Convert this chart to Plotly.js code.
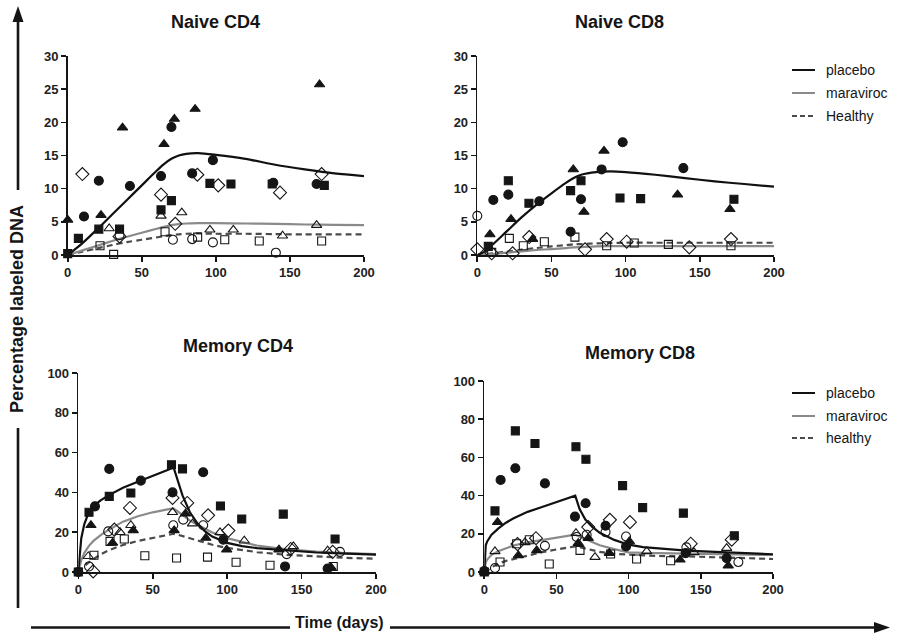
<!DOCTYPE html>
<html>
<head>
<meta charset="utf-8">
<script src="https://cdn.plot.ly/plotly-3.0.1.min.js"></script>
<style>html,body{margin:0;padding:0;background:#fff;}#chart{width:903px;height:635px;}</style>
</head>
<body>
<div id="chart"></div>
<script>
// ---------- tick labels ----------
const xTicks = [0, 50, 100, 150, 200];
const naiveYTicks = [0, 5, 10, 15, 20, 25, 30];
const memYTicks = [0, 20, 40, 60, 80, 100];

// ---------- panel titles / legend labels ----------
const panelTitles = ["Naive CD4", "Naive CD8", "Memory CD4", "Memory CD8"];
const legendTop = ["placebo", "maraviroc", "Healthy"];
const legendBottom = ["placebo", "maraviroc", "healthy"];

// ---------- Naive CD4 observed points [day, %] ----------
const nCD4_filledCircle = [[11,5.8],[21,11.2],[42,10.4],[63,11.9],[70,19.3],[84,12.3],[98,14.3],[138.8,10.9],[168,10.7]];
const nCD4_filledSquare = [[0,0.2],[7.2,2.5],[21,3.9],[35,3.9],[63,6.8],[70,8.2],[96,10.8],[110.2,10.7],[138,10.7],[173.2,10.5]];
const nCD4_filledTriangle = [[0,5.3],[22.5,6.0],[37,19.2],[65,16.7],[72,20.5],[86,22],[170,25.7]];
const nCD4_openCircle = [[35,3.0],[71,2.3],[84,2.4],[98,1.9],[140.5,0.35]];
const nCD4_openSquare = [[21.8,1.4],[31,0.1],[65.7,3.5],[87.7,2.7],[106,2.3],[129.3,2.1],[171.4,2.1]];
const nCD4_openTriangle = [[28,4.0],[63,5.9],[77,6.4],[96,3.8],[111.8,3.8],[145,2.9],[168,4.5]];
const nCD4_openDiamond = [[9.9,12.2],[35,2.8],[63,9.1],[72.6,4.7],[87.5,12.1],[101.6,10.5],[143.3,9.4],[171.4,12.2]];

// ---------- Naive CD8 observed points ----------
const nCD8_filledCircle = [[10.8,8.3],[20.9,9.1],[41.8,8.1],[62.9,3.5],[69.9,8.4],[83.8,12.9],[98,17.0],[138.9,13.1]];
const nCD8_filledSquare = [[7.4,1.3],[20.9,11.2],[34.8,7.8],[62.9,9.7],[69.9,11.2],[96.2,8.6],[110.1,8.5],[173,8.4]];
const nCD8_filledTriangle = [[8.5,3.1],[22.7,5.4],[37.3,2.4],[64.7,12.9],[71.9,6.5],[85.4,15.7],[135,9.1],[170.3,6.9]];
const nCD8_openCircle = [[0,5.9]];
const nCD8_openSquare = [[9.7,0.4],[21.6,2.5],[31,1.4],[45.2,2.0],[65.8,2.7],[87.2,1.4],[105.8,1.8],[128.8,1.6],[171,1.4]];
const nCD8_openTriangle = [];
const nCD8_openDiamond = [[0,0.85],[9.7,0.25],[23.8,0.25],[35,2.7],[72.6,0.85],[87.2,2.4],[100.7,2.0],[142.9,1.15],[171,2.4]];

// ---------- Memory CD4 observed points ----------
const mCD4_filledCircle = [[0,0],[11.2,33],[20.8,51.8],[42,45.9],[63.3,40],[83.9,50.1],[97.4,16.2],[138.9,2.8],[167.5,1.7]];
const mCD4_filledSquare = [[0,0],[7.2,30],[20.8,38],[35.3,39.7],[62.6,53.9],[70,51.8],[95.5,33.2],[109.8,26.6],[137.7,29.1],[172.5,16.6]];
const mCD4_filledTriangle = [[8.5,23.5],[23,14.6],[36.9,20.9],[64.4,20.9],[72,29.3],[85.7,17.1],[99.7,11.2],[134.8,11.2],[169.8,2.3]];
const mCD4_openCircle = [[7.2,2.8],[20.1,20.4],[63.8,23.5],[70.5,26.3],[83.9,23.5],[140,9],[175.8,10.1]];
const mCD4_openSquare = [[10.5,8.4],[21.3,15.4],[30.9,16.6],[44.7,8.2],[66,7],[86.8,7.5],[106,4.9],[128.8,3.4],[171.3,2.8]];
const mCD4_openTriangle = [[6.7,7.9],[28,20],[35.3,23.5],[63.3,30],[76.7,24.3],[95.2,19.9],[111.5,15.7],[144.5,12.9],[167.5,10.7]];
const mCD4_openDiamond = [[10,0.3],[24.2,21.3],[34.7,32.2],[63.3,37.2],[73.2,34.7],[87.2,28.5],[100.8,20.8],[142.7,11.6],[170.9,10.1]];

// ---------- Memory CD8 observed points ----------
const mCD8_filledCircle = [[0,0.5],[11.3,48.2],[21.5,54.3],[42,46.4],[62.8,29],[70.2,36],[84,24.2],[98.2,13.4],[139.5,9.9],[167.9,7.3]];
const mCD8_filledSquare = [[0,0],[7.4,32],[21.5,73.9],[35.1,67.3],[63.5,65.6],[70.4,59],[95.8,45.2],[109.7,33.7],[137.9,30.8],[173.2,19]];
const mCD8_filledTriangle = [[0,0],[9.2,26.1],[23.6,8.7],[36.3,11.3],[65.1,15.1],[72,17.7],[86.6,9.9],[100.5,16],[135.6,6.4],[169,3.3]];
const mCD8_openCircle = [[7.4,2.1],[42,13.7],[64,18.3],[70.9,19.5],[84,20.9],[98.2,18.6],[140,12.9],[176,5.2]];
const mCD8_openSquare = [[10.9,5.2],[22.4,14.8],[31.2,16.9],[45,4.2],[66.3,11.3],[87.5,9.4],[105.5,6.8],[129.1,5.9]];
const mCD8_openTriangle = [[7.4,10.8],[28.2,15.5],[63.5,20.3],[76.7,7.8],[112.5,10.8],[145.3,10.3],[167.9,12.5]];
const mCD8_openDiamond = [[23,14.6],[35.8,17.7],[72,23.5],[87,27.3],[100.9,26.1],[143,14.8],[171.4,16.9]];

// ---------- model curves ----------
const nCD4_days = [0,10,20,30,40,50,60,65,70,75,80,88,100,120,140,160,180,200];
const nCD4_placebo = [0,1.8,3.9,6.1,8.3,10.5,12.7,13.7,14.5,15.0,15.25,15.35,15.1,14.5,13.6,12.9,12.3,11.9];
const nCD4_maraviroc = [0,0.7,1.4,2.1,2.75,3.35,3.95,4.25,4.5,4.65,4.75,4.8,4.8,4.75,4.7,4.6,4.55,4.5];
const nCD4_healthy = [0,0.5,1.0,1.5,1.95,2.3,2.65,2.85,3.0,3.1,3.2,3.25,3.2,3.2,3.15,3.1,3.1,3.1];

const nCD8_days = [0,5,10,20,30,40,50,60,65,70,80,90,100,120,140,160,180,200];
const nCD8_placebo = [0,0.5,1.5,3.6,5.7,7.6,9.3,10.9,11.6,12.1,12.5,12.6,12.5,12.1,11.6,11.1,10.7,10.3];
const nCD8_maraviroc = [0,0.05,0.15,0.35,0.55,0.75,0.9,1.05,1.15,1.2,1.3,1.33,1.35,1.35,1.35,1.35,1.35,1.35];
const nCD8_healthy = [0,0.1,0.25,0.5,0.8,1.05,1.3,1.5,1.6,1.65,1.75,1.8,1.85,1.85,1.85,1.85,1.85,1.85];

const mCD4_days = [0,1,2,4,7,10,15,20,30,40,50,60,64,67,70,75,80,85,90,100,110,120,140,160,180,200];
const mCD4_placebo = [0,10,17,24,30,33,36,38.4,42.3,45.3,48.5,51.3,52.5,45,38.5,30,24.5,20.5,17.8,14.6,13,12,10.8,9.8,9.2,8.7];
const mCD4_maraviroc = [0,3.5,6,9.5,13,15.5,18.5,21,25.3,28,30,31.5,32,30.3,28.5,25.8,23.7,21.6,19.8,17,15,13.3,11.4,10.2,9.5,9.0];
const mCD4_healthy = [0,0.8,1.5,2.9,4.8,6.5,8.9,10.8,13.6,15.6,17.2,18.6,19.2,18.7,18,16.9,15.8,14.7,13.7,12.1,11,10,8.6,7.7,7.1,6.7];

const mCD8_days = [0,0.5,1,2,5,10,15,20,30,40,50,63,66,70,75,80,90,100,110,120,140,160,180,200];
const mCD8_placebo = [0,10,14,16,19.5,23,25.8,28,31.5,34,36.5,40,33,27.5,23.5,20.5,16.8,14.3,13,12.3,11.2,10.5,9.8,9.3];
const mCD8_maraviroc = [0,3,5,6.5,9,11,12.5,13.8,15.5,16.8,18,19.5,18.5,17.2,15.5,14,12,10.3,10,9.9,9.7,9.4,9.1,8.9];
const mCD8_healthy = [0,0.2,0.5,1,2.5,4.5,5.8,6.8,8.8,10.4,11.8,13.4,13,12.3,11.3,10.5,9.5,9,8.6,8.4,8.2,7.7,7.2,6.8];

// ---------- build ----------
const W = 903, H = 635;
const px = v => v / W;
const py = v => 1 - v / H;
const FONT = 'Liberation Sans, Arial, Helvetica, sans-serif';
const INK = '#151515';

const traces = [];
const markerStyles = {
  filledCircle:   {symbol: 'circle', size: 9},
  filledSquare:   {symbol: 'square', size: 8},
  filledTriangle: {symbol: 'triangle-up', size: 9},
  openCircle:     {symbol: 'circle-open', size: 9},
  openSquare:     {symbol: 'square-open', size: 8},
  openTriangle:   {symbol: 'triangle-up-open', size: 9},
  openDiamond:    {symbol: 'diamond-open', size: 10}
};
function addPoints(list, kind, xa, ya) {
  if (!list.length) return;
  const st = markerStyles[kind];
  traces.push({
    type: 'scatter', mode: 'markers', xaxis: xa, yaxis: ya, showlegend: false, cliponaxis: false,
    x: list.map(p => p[0]), y: list.map(p => p[1]),
    marker: {symbol: st.symbol, size: st.size, color: INK, line: {color: INK, width: 1.1}},
    hoverinfo: 'x+y'
  });
}
function addCurve(days, vals, kind, xa, ya, shape) {
  const styles = {
    placebo: {color: '#111', width: 2.2, dash: 'solid'},
    maraviroc: {color: '#8a8a8a', width: 2.2, dash: 'solid'},
    healthy: {color: '#4a4a4a', width: 2.2, dash: '6px,4px'}
  };
  const s = styles[kind];
  traces.push({
    type: 'scatter', mode: 'lines', xaxis: xa, yaxis: ya, showlegend: false, cliponaxis: false,
    x: days, y: vals, line: {color: s.color, width: s.width, dash: s.dash, shape: shape, smoothing: 0.8}
  });
}

const panels = [
  {xa: 'x', ya: 'y', pre: 'nCD4'},
  {xa: 'x2', ya: 'y2', pre: 'nCD8'},
  {xa: 'x3', ya: 'y3', pre: 'mCD4'},
  {xa: 'x4', ya: 'y4', pre: 'mCD8'}
];
const pointSets = {
  nCD4: {filledCircle: nCD4_filledCircle, filledSquare: nCD4_filledSquare, filledTriangle: nCD4_filledTriangle, openCircle: nCD4_openCircle, openSquare: nCD4_openSquare, openTriangle: nCD4_openTriangle, openDiamond: nCD4_openDiamond},
  nCD8: {filledCircle: nCD8_filledCircle, filledSquare: nCD8_filledSquare, filledTriangle: nCD8_filledTriangle, openCircle: nCD8_openCircle, openSquare: nCD8_openSquare, openTriangle: nCD8_openTriangle, openDiamond: nCD8_openDiamond},
  mCD4: {filledCircle: mCD4_filledCircle, filledSquare: mCD4_filledSquare, filledTriangle: mCD4_filledTriangle, openCircle: mCD4_openCircle, openSquare: mCD4_openSquare, openTriangle: mCD4_openTriangle, openDiamond: mCD4_openDiamond},
  mCD8: {filledCircle: mCD8_filledCircle, filledSquare: mCD8_filledSquare, filledTriangle: mCD8_filledTriangle, openCircle: mCD8_openCircle, openSquare: mCD8_openSquare, openTriangle: mCD8_openTriangle, openDiamond: mCD8_openDiamond}
};
const curveSets = {
  nCD4: {days: nCD4_days, placebo: nCD4_placebo, maraviroc: nCD4_maraviroc, healthy: nCD4_healthy, shape: 'spline'},
  nCD8: {days: nCD8_days, placebo: nCD8_placebo, maraviroc: nCD8_maraviroc, healthy: nCD8_healthy, shape: 'spline'},
  mCD4: {days: mCD4_days, placebo: mCD4_placebo, maraviroc: mCD4_maraviroc, healthy: mCD4_healthy, shape: 'linear'},
  mCD8: {days: mCD8_days, placebo: mCD8_placebo, maraviroc: mCD8_maraviroc, healthy: mCD8_healthy, shape: 'linear'}
};
panels.forEach(p => {
  const c = curveSets[p.pre];
  ['healthy', 'maraviroc', 'placebo'].forEach(k => addCurve(c.days, c[k], k, p.xa, p.ya, c.shape));
  const s = pointSets[p.pre];
  Object.keys(s).forEach(k => addPoints(s[k], k, p.xa, p.ya));
});

const tickFont = {family: FONT, size: 13, color: '#222', weight: 'bold'};
function xAxis(d0, d1, anchor) {
  return {domain: [px(d0), px(d1)], anchor: anchor, range: [0, 200], tickvals: xTicks, ticktext: xTicks.map(String),
    ticks: 'outside', ticklen: 5, tickwidth: 1.6, tickcolor: INK, showline: true, linewidth: 1.6, linecolor: INK,
    showgrid: false, zeroline: false, tickfont: tickFont, fixedrange: true};
}
function yAxis(d0, d1, anchor, top, ticks) {
  return {domain: [py(d1), py(d0)], anchor: anchor, range: [0, top], tickvals: ticks, ticktext: ticks.map(String),
    ticks: 'outside', ticklen: 5, tickwidth: 1.6, tickcolor: INK, showline: true, linewidth: 1.6, linecolor: INK,
    showgrid: false, zeroline: false, tickfont: tickFont, fixedrange: true};
}

const annotations = [];
const titlePos = [[215, 22], [619, 22], [238, 346], [640, 353]];
panelTitles.forEach((t, i) => annotations.push({
  text: t, xref: 'paper', yref: 'paper', x: px(titlePos[i][0]), y: py(titlePos[i][1]),
  xanchor: 'center', yanchor: 'middle', showarrow: false,
  font: {family: FONT, size: 18, color: INK, weight: 'bold'}
}));
annotations.push({text: 'Percentage labeled DNA', xref: 'paper', yref: 'paper', x: px(17), y: py(309),
  textangle: -90, xanchor: 'center', yanchor: 'middle', showarrow: false,
  font: {family: FONT, size: 18, color: INK, weight: 'bold'}});
annotations.push({text: 'Time (days)', xref: 'paper', yref: 'paper', x: px(339), y: py(622),
  xanchor: 'center', yanchor: 'middle', showarrow: false, borderpad: 0,
  font: {family: FONT, size: 16, color: INK, weight: 'bold'}});

const shapes = [];
const legendStyles = [
  {color: '#111', dash: 'solid'},
  {color: '#8a8a8a', dash: 'solid'},
  {color: '#4a4a4a', dash: '5px,3px'}
];
function addLegend(labels, ys) {
  labels.forEach((lab, i) => {
    shapes.push({type: 'line', xref: 'paper', yref: 'paper', x0: px(792), x1: px(815), y0: py(ys[i]), y1: py(ys[i]),
      line: {color: legendStyles[i].color, width: 2, dash: legendStyles[i].dash}});
    annotations.push({text: lab, xref: 'paper', yref: 'paper', x: px(824), y: py(ys[i]),
      xanchor: 'left', yanchor: 'middle', showarrow: false,
      font: {family: FONT, size: 14, color: INK}});
  });
}
addLegend(legendTop, [70, 93, 116]);
addLegend(legendBottom, [393, 416, 438]);

// axis arrows
const arrowLine = {color: INK, width: 2.6};
shapes.push({type: 'line', xref: 'paper', yref: 'paper', x0: px(18), x1: px(18), y0: py(190), y1: py(18), line: arrowLine});
shapes.push({type: 'line', xref: 'paper', yref: 'paper', x0: px(18), x1: px(18), y0: py(428), y1: py(608), line: arrowLine});
shapes.push({type: 'line', xref: 'paper', yref: 'paper', x0: px(31), x1: px(290), y0: py(627.5), y1: py(627.5), line: arrowLine});
shapes.push({type: 'line', xref: 'paper', yref: 'paper', x0: px(390), x1: px(878), y0: py(627.5), y1: py(627.5), line: arrowLine});
shapes.push({type: 'path', xref: 'paper', yref: 'paper',
  path: `M ${px(18)} ${py(6)} L ${px(12.5)} ${py(22)} L ${px(23.5)} ${py(22)} Z`, fillcolor: INK, line: {width: 0}});
shapes.push({type: 'path', xref: 'paper', yref: 'paper',
  path: `M ${px(890)} ${py(627.5)} L ${px(874)} ${py(622)} L ${px(874)} ${py(633)} Z`, fillcolor: INK, line: {width: 0}});

const layout = {
  width: W, height: H, margin: {l: 0, r: 0, t: 0, b: 0},
  paper_bgcolor: '#fff', plot_bgcolor: 'rgba(0,0,0,0)', showlegend: false,
  font: {family: FONT, color: INK},
  xaxis: xAxis(67.7, 364, 'y'), yaxis: yAxis(56, 255, 'x', 30, naiveYTicks),
  xaxis2: xAxis(477.3, 774, 'y2'), yaxis2: yAxis(56, 255, 'x2', 30, naiveYTicks),
  xaxis3: xAxis(78.3, 376, 'y3'), yaxis3: yAxis(373, 572, 'x3', 100, memYTicks),
  xaxis4: xAxis(484.3, 773, 'y4'), yaxis4: yAxis(381, 572, 'x4', 100, memYTicks),
  annotations: annotations, shapes: shapes
};
Plotly.newPlot('chart', traces, layout, {displayModeBar: false, staticPlot: true});
</script>
</body>
</html>
